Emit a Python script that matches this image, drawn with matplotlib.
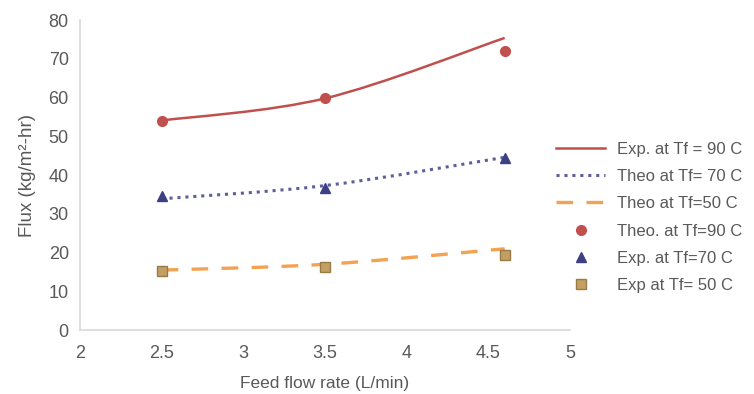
import numpy as np
import matplotlib.pyplot as plt
from matplotlib.path import Path
from matplotlib.patches import PathPatch
from matplotlib.lines import Line2D

plt.rcParams['font.family'] = ['Liberation Sans', 'DejaVu Sans']

# datos
flow = [2.5, 3.5, 4.6]
exp90_line = [54.1, 59.8, 75.4]
theo70_line = [33.9, 37.3, 44.6]
theo50_line = [15.5, 17.0, 21.0]
theo90_pts = [54.0, 60.0, 72.0]
exp70_pts = [34.5, 36.6, 44.3]
exp50_pts = [15.2, 16.4, 19.3]

labels = ['Exp. at Tf = 90 C', 'Theo at Tf= 70 C', 'Theo at Tf=50 C',
          'Theo. at Tf=90 C', 'Exp. at Tf=70 C', 'Exp at Tf= 50 C']

c_red = '#c0504d'
c_blue = '#5b5f9e'
c_tri = '#3d4183'
c_orange = '#f2a250'
c_sq = '#c2a063'
c_sq_edge = '#9a7b45'
c_text = '#595959'

ls_dot = (0, (1, 1.6))
ls_dash = (0, (5, 4))


def curva_suave(x, y):
    # linea suavizada tipo Excel (Catmull-Rom -> Bezier)
    x = np.asarray(x, float)
    y = np.asarray(y, float)
    pts = np.column_stack([x, y])
    verts = [pts[0]]
    codes = [Path.MOVETO]
    n = len(pts)
    for i in range(n - 1):
        p0 = pts[i - 1] if i > 0 else pts[i]
        p1 = pts[i]
        p2 = pts[i + 1]
        p3 = pts[i + 2] if i + 2 < n else pts[i + 1]
        c1 = p1 + (p2 - p0) / 6.0
        c2 = p2 - (p3 - p1) / 6.0
        verts += [c1, c2, p2]
        codes += [Path.CURVE4] * 3
    return Path(verts, codes)


fig = plt.figure(figsize=(7.54, 3.94), dpi=100)
ax = fig.add_axes([0.106, 0.162, 0.650, 0.787])

ax.add_patch(PathPatch(curva_suave(flow, exp90_line), fill=False,
                       edgecolor=c_red, lw=1.8, zorder=2))
ax.add_patch(PathPatch(curva_suave(flow, theo70_line), fill=False,
                       edgecolor=c_blue, lw=2.2, linestyle=ls_dot, zorder=2))
ax.add_patch(PathPatch(curva_suave(flow, theo50_line), fill=False,
                       edgecolor=c_orange, lw=2.4, linestyle=ls_dash, zorder=2))

ax.plot(flow, theo90_pts, 'o', color=c_red, ms=7, zorder=3)
ax.plot(flow, exp70_pts, '^', color=c_tri, ms=7, zorder=3)
ax.plot(flow, exp50_pts, 's', color=c_sq, mec=c_sq_edge, ms=7, zorder=3)

ax.set_xlim(2, 5)
ax.set_ylim(0, 80)
ax.set_xticks(np.arange(2, 5.01, 0.5))
ax.set_xticklabels(['2', '2.5', '3', '3.5', '4', '4.5', '5'])
ax.set_yticks(np.arange(0, 81, 10))
ax.tick_params(length=0, labelsize=13, colors=c_text)
ax.tick_params(axis='x', pad=11)
ax.tick_params(axis='y', pad=8)
for s in ['top', 'right']:
    ax.spines[s].set_visible(False)
for s in ['left', 'bottom']:
    ax.spines[s].set_color('#d9d9d9')
    ax.spines[s].set_linewidth(1.2)

ax.set_xlabel('Feed flow rate (L/min)', fontsize=12.5, color=c_text, labelpad=10)
ax.set_ylabel('Flux (kg/m²-hr)', fontsize=13.5, color=c_text, labelpad=9)

handles = [
    Line2D([], [], color=c_red, lw=1.8),
    Line2D([], [], color=c_blue, lw=2.2, linestyle=ls_dot),
    Line2D([], [], color=c_orange, lw=2.4, linestyle=ls_dash),
    Line2D([], [], marker='o', ls='', color=c_red, ms=7),
    Line2D([], [], marker='^', ls='', color=c_tri, ms=7),
    Line2D([], [], marker='s', ls='', color=c_sq, mec=c_sq_edge, ms=7),
]
leg = fig.legend(handles, labels, loc='center left', bbox_to_anchor=(0.718, 0.448),
                 frameon=False, fontsize=12, handlelength=2.9, labelspacing=0.74,
                 handletextpad=0.72)
for t in leg.get_texts():
    t.set_color(c_text)

plt.savefig('out.png', dpi=100)
